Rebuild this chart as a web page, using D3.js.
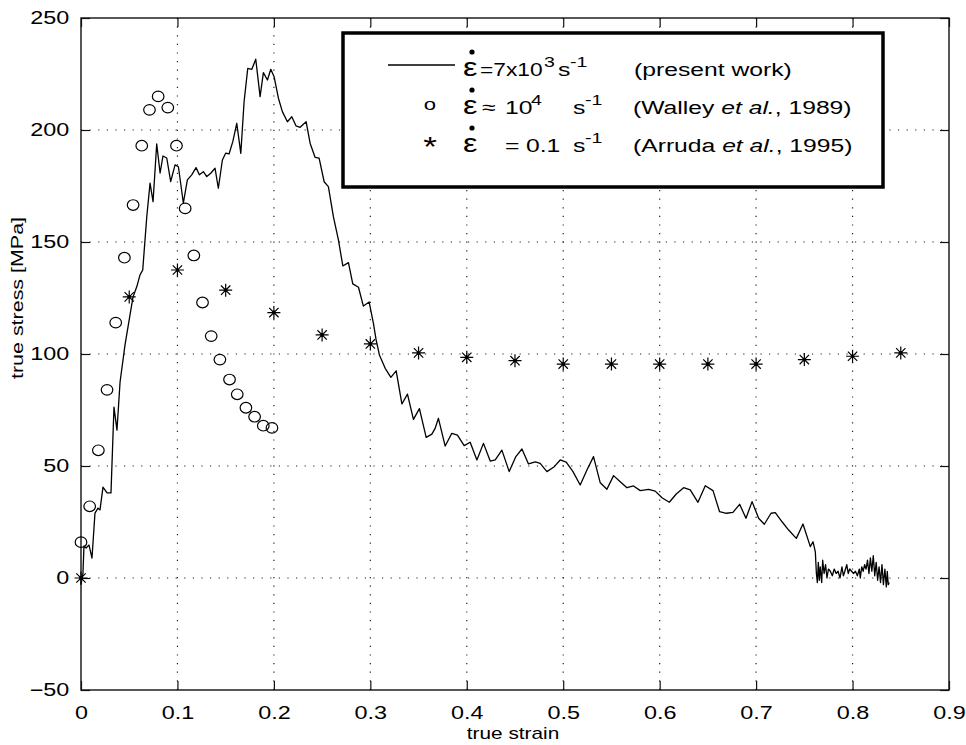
<!DOCTYPE html>
<html>
<head>
<meta charset="utf-8">
<script src="https://cdn.jsdelivr.net/npm/d3@7/dist/d3.min.js"></script>
<style>
    body { margin: 0; background: #fff; }
    svg { font-family: "Liberation Sans", Arial, Helvetica, sans-serif; }
</style>
</head>
<body>
<script>
// present work, 7x10^3 1/s  (strain, stress)
var presentStrain = [0.000, 0.002, 0.0031, 0.0052, 0.0083, 0.0114, 0.0145, 0.0176, 0.0197, 0.0228, 0.027, 0.0311, 0.0342, 0.0373, 0.0405, 0.0456,
    0.0539, 0.0578, 0.0612, 0.064, 0.0682, 0.0716, 0.0747, 0.0785, 0.082, 0.085, 0.0889, 0.093, 0.0975, 0.101, 0.1061, 0.1103, 0.1148, 0.1193,
    0.1227, 0.1269, 0.1304, 0.1345, 0.139, 0.1424, 0.1466, 0.1501, 0.1535, 0.1574, 0.1615, 0.1657, 0.1691, 0.1729, 0.1771, 0.1812, 0.1857,
    0.1891, 0.1933, 0.1968, 0.2002, 0.2047, 0.2088, 0.214, 0.2186, 0.223, 0.2272, 0.2334, 0.2376, 0.2427, 0.2469, 0.2521, 0.2565, 0.2617,
    0.2669, 0.2715, 0.2773, 0.2818, 0.2877, 0.2928, 0.2988, 0.3032, 0.306, 0.3094, 0.3154, 0.3213, 0.3268, 0.3327, 0.3385, 0.3447, 0.3509,
    0.3579, 0.3638, 0.3672, 0.3706, 0.3776, 0.3845, 0.3903, 0.3973, 0.4035, 0.4105, 0.4173, 0.4243, 0.4295, 0.4364, 0.444, 0.4509, 0.4572,
    0.464, 0.471, 0.4761, 0.4831, 0.4907, 0.4969, 0.5031, 0.5101, 0.5176, 0.5246, 0.5314, 0.5384, 0.5453, 0.5522, 0.5591, 0.5661, 0.5729,
    0.5799, 0.5885, 0.5954, 0.6024, 0.61, 0.6172, 0.6248, 0.6317, 0.6397, 0.6473, 0.6553, 0.6621, 0.6691, 0.676, 0.6829, 0.6895, 0.6958,
    0.7026, 0.7085, 0.7155, 0.7199, 0.7269, 0.7337, 0.7417, 0.7486, 0.7562, 0.759, 0.7614,
    0.7625, 0.7635, 0.7645, 0.7655, 0.7665, 0.768, 0.769, 0.7705, 0.772, 0.7735, 0.775, 0.777, 0.779, 0.781, 0.783, 0.785, 0.787, 0.789,
    0.7905, 0.792, 0.794, 0.7955, 0.797, 0.799, 0.801, 0.803, 0.805, 0.807, 0.808, 0.8095, 0.811, 0.8125, 0.814, 0.8155, 0.817, 0.8185,
    0.82, 0.8215, 0.823, 0.8245, 0.826, 0.8275, 0.829, 0.8305, 0.832, 0.8335, 0.835, 0.836, 0.837, 0.838];
var presentStress = [-3, 2, 14.3, 13.4, 14.7, 8.9, 29, 31.2, 30.4, 40.6, 38, 38, 76.3, 66, 87.5, 104,
    125.4, 130, 135.3, 137.5, 161.3, 176.3, 168, 193.8, 180.8, 188.4, 187.5, 177, 184.4, 183.6, 167.4, 177.7, 180, 183.2,
    180, 181.4, 179.2, 180.7, 182.9, 174, 186.6, 189.7, 189.3, 194.8, 203, 189.6, 212.6, 227.5, 227.1, 231.6, 214.9,
    225.6, 222.3, 227.1, 223.8, 214.2, 208.2, 203.7, 205.9, 201.8, 201.2, 203.7, 194, 187.8, 187.4, 176.9, 174.7, 161.3,
    150.9, 139.3, 140.8, 131.3, 129.8, 121.4, 123.2, 113.7, 106.3, 99.6, 93.6, 89.6, 92.5, 77.7, 82.1, 70.8, 75.6,
    62.8, 64.2, 66.8, 71.3, 58.9, 64.6, 63.8, 59.1, 60.6, 52.7, 60.1, 52.2, 52.7, 57.1, 47.5, 54.2, 57.6,
    50.9, 51.8, 51.2, 47.5, 49.7, 52.7, 51.7, 47.5, 41.5, 48.2, 54.2, 42.5, 39.6, 45.7, 43, 40.3, 41.1,
    39, 39.6, 38.8, 35.8, 33.8, 37.5, 40.3, 39.3, 33.8, 41.2, 39, 29.6, 28.9, 29.3, 32.9, 26.7, 34.1,
    26.7, 24, 28.9, 29.2, 25.1, 21.4, 17.7, 24.1, 14, 16.2, 11.7,
    2, -2, 7, -1, 5, -2, 8, 2, 6, 0, 4, 3, 1, 4, 2, 3, 0, 5,
    1, 3, 6, 2, 4, 3, 2, 3, 1, 4, 0, 5, 3, 6, 4, 8, 2, 9,
    3, 10, 1, 7, -1, 5, -2, 6, -3, 4, -4, 3, -3, -2];

// Walley et al., 1989
var walleyStrain = [0.000, 0.009, 0.018, 0.027, 0.036, 0.045, 0.054, 0.063, 0.071, 0.080, 0.090, 0.099,
    0.108, 0.117, 0.126, 0.135, 0.144, 0.154, 0.162, 0.171, 0.180, 0.189, 0.198];
var walleyStress = [16, 32, 57, 84, 114, 143, 166.5, 193, 209, 215, 210, 193,
    165, 144, 123, 108, 97.5, 88.6, 82, 76, 72, 68, 67];

// Arruda et al., 1995
var arrudaStrain = [0, 0.05, 0.1, 0.15, 0.2, 0.25, 0.3, 0.35, 0.4, 0.45, 0.5, 0.55, 0.6, 0.65, 0.7, 0.75, 0.8, 0.85];
var arrudaStress = [0, 125.5, 137.5, 128.5, 118.5, 108.5, 104.5, 100.5, 98.5, 97, 95.5, 95.5, 95.5, 95.5, 95.5, 97.5, 99, 100.5];

var xTicks = [0, 0.1, 0.2, 0.3, 0.4, 0.5, 0.6, 0.7, 0.8, 0.9];
var yTicks = [-50, 0, 50, 100, 150, 200, 250];

// legend text pieces: [text, kind]  kind 0 normal, 1 superscript, 2 italic
var legendRows = [
    [["\u03B5", 0], ["=7x10", 0], ["3", 1], ["s", 0], ["-1", 1], ["(present work)", 0]],
    [["\u03B5", 0], ["\u2248", 0], ["10", 0], ["4", 1], ["s", 0], ["-1", 1], ["(Walley ", 0], ["et al.", 2], [", 1989)", 0]],
    [["\u03B5", 0], ["=", 0], ["0.1", 0], ["s", 0], ["-1", 1], ["(Arruda ", 0], ["et al.", 2], [", 1995)", 0]]
];

// the figure text is wider than normal, so stretch the glyphs
var stretch = 1.3;

var margin = { top: 18, right: 17, bottom: 55, left: 81 };
var width = 966 - margin.left - margin.right,
    height = 745 - margin.top - margin.bottom;

var svg = d3.select("body").append("svg")
    .attr("width", 966)
    .attr("height", 745);

var g = svg.append("g")
    .attr("transform", "translate(" + margin.left + "," + margin.top + ")");

var x = d3.scaleLinear().domain([0, 0.9]).range([0, width]);
var y = d3.scaleLinear().domain([-50, 250]).range([height, 0]);

// dotted grid
g.append("g").selectAll("line")
    .data(xTicks.slice(1, -1))
    .enter().append("line")
    .attr("x1", function (d) { return x(d); })
    .attr("x2", function (d) { return x(d); })
    .attr("y1", 0).attr("y2", height)
    .attr("stroke", "#222").attr("stroke-width", 1.2)
    .attr("stroke-dasharray", "1.2,7.4");

g.append("g").selectAll("line")
    .data(yTicks.slice(1, -1))
    .enter().append("line")
    .attr("y1", function (d) { return y(d); })
    .attr("y2", function (d) { return y(d); })
    .attr("x1", 0).attr("x2", width)
    .attr("stroke", "#222").attr("stroke-width", 1.2)
    .attr("stroke-dasharray", "1.2,7.4");

// axes, ticks inside on all four sides
var tickLen = 9;
g.append("g")
    .attr("transform", "translate(0," + height + ")")
    .call(d3.axisBottom(x).tickValues(xTicks).tickSizeInner(-tickLen).tickSizeOuter(0)
        .tickPadding(16).tickFormat(d3.format("")));
g.append("g")
    .call(d3.axisTop(x).tickValues(xTicks).tickSizeInner(-tickLen).tickSizeOuter(0).tickFormat(""));
g.append("g")
    .call(d3.axisLeft(y).tickValues(yTicks).tickSizeInner(-tickLen).tickSizeOuter(0)
        .tickPadding(9).tickFormat(function (d) { return d < 0 ? "\u2212" + (-d) : d; }));
g.append("g")
    .attr("transform", "translate(" + width + ",0)")
    .call(d3.axisRight(y).tickValues(yTicks).tickSizeInner(-tickLen).tickSizeOuter(0).tickFormat(""));

g.selectAll(".domain").remove();
g.selectAll(".tick line").attr("stroke", "#111").attr("stroke-width", 1.2);
g.selectAll(".tick text").attr("fill", "#000").attr("font-size", 18)
    .attr("transform", "scale(" + stretch + ",1)");

// frame
g.append("rect")
    .attr("width", width).attr("height", height)
    .attr("fill", "none").attr("stroke", "#111").attr("stroke-width", 1.4);

// axis labels
svg.append("text")
    .attr("transform", "translate(" + (margin.left + width / 2 - 2) + ",739) scale(" + stretch + ",1)")
    .attr("text-anchor", "middle")
    .attr("font-size", 16)
    .text("true strain");

svg.append("text")
    .attr("transform", "translate(23,298) rotate(-90) scale(" + stretch + ",1)")
    .attr("text-anchor", "middle")
    .attr("font-size", 16.5)
    .text("true stress [MPa]");

// present work line
var line = d3.line()
    .x(function (d) { return x(d[0]); })
    .y(function (d) { return y(d[1]); });

g.append("path")
    .datum(d3.zip(presentStrain, presentStress))
    .attr("d", line)
    .attr("fill", "none")
    .attr("stroke", "#000")
    .attr("stroke-width", 1.3)
    .attr("stroke-linejoin", "round");

// Walley circles
g.append("g").selectAll("ellipse")
    .data(d3.zip(walleyStrain, walleyStress))
    .enter().append("ellipse")
    .attr("cx", function (d) { return x(d[0]); })
    .attr("cy", function (d) { return y(d[1]); })
    .attr("rx", 5.8).attr("ry", 5.3)
    .attr("fill", "none").attr("stroke", "#000").attr("stroke-width", 1.2);

// Arruda stars (matlab style '*')
var s = 6.5, sd = s * 0.72;
var starPath = "M0," + (-s) + "V" + s + "M" + (-s) + ",0H" + s +
    "M" + (-sd) + "," + (-sd) + "L" + sd + "," + sd +
    "M" + (-sd) + "," + sd + "L" + sd + "," + (-sd);

var stars = g.append("g").selectAll("g")
    .data(d3.zip(arrudaStrain, arrudaStress))
    .enter().append("g")
    .attr("transform", function (d) { return "translate(" + x(d[0]) + "," + y(d[1]) + ")"; });
stars.append("path")
    .attr("d", starPath)
    .attr("stroke", "#000").attr("stroke-width", 1.2).attr("fill", "none");
stars.append("circle").attr("r", 1.8).attr("fill", "#000");

// legend
var legend = svg.append("g");
legend.append("rect")
    .attr("x", 343).attr("y", 33)
    .attr("width", 540).attr("height", 154)
    .attr("fill", "#fff").attr("stroke", "#000").attr("stroke-width", 3.5);

legend.append("line")
    .attr("x1", 388).attr("x2", 455)
    .attr("y1", 65).attr("y2", 65)
    .attr("stroke", "#000").attr("stroke-width", 1.3);
legend.append("text")
    .attr("transform", "translate(430,110) scale(" + stretch + ",1)")
    .attr("text-anchor", "middle")
    .attr("font-size", 17).text("o");
legend.append("text")
    .attr("transform", "translate(430,156) scale(" + stretch + ",1)")
    .attr("text-anchor", "middle")
    .attr("font-size", 27).text("*");

// left edge of each piece on screen
var pieceX = [
    [463, 480, 544, 558, 570, 634],
    [463, 482, 505, 531, 573, 585, 633],
    [463, 505, 526, 573, 585, 633]
];
var rowY = [76, 114, 152];

legendRows.forEach(function (row, i) {
    var t = legend.append("text")
        .attr("transform", "translate(0," + rowY[i] + ") scale(" + stretch + ",1)")
        .attr("font-size", 19)
        .attr("xml:space", "preserve");
    row.forEach(function (part, j) {
        var ts = t.append("tspan").text(part[0]);
        if (j < pieceX[i].length) ts.attr("x", pieceX[i][j] / stretch).attr("y", 0);
        if (j === 0) ts.attr("font-size", 25);
        if (i === 0 && j === 1) ts.attr("font-size", 17.5);
        if (part[1] === 1) ts.attr("y", -9).attr("font-size", 15);
        if (part[1] === 2) ts.attr("font-style", "italic");
    });
    // dot over epsilon
    legend.append("circle")
        .attr("cx", 472).attr("cy", rowY[i] - 24)
        .attr("r", 2.6).attr("fill", "#000");
});
</script>
</body>
</html>
